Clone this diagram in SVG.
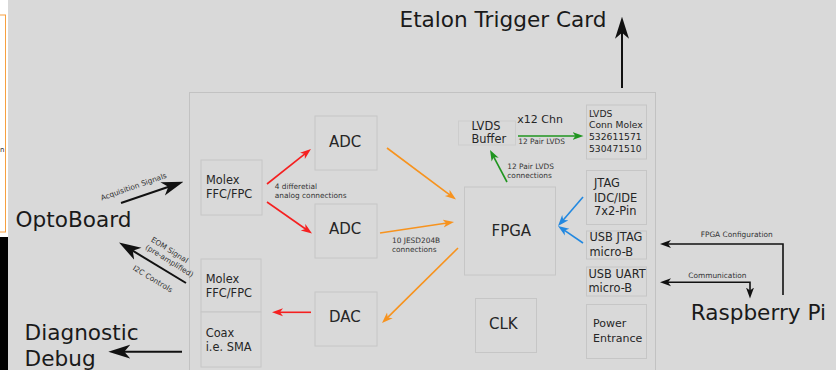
<svg xmlns="http://www.w3.org/2000/svg" width="836" height="370" viewBox="0 0 836 370">
<style>
text{font-family:"DejaVu Sans","Liberation Sans",sans-serif;fill:#262626}
.big{font-size:21.6px;fill:#1a1a1a}
.box{fill:#d9d9d9;stroke:#c6c6c6;stroke-width:1}
.t15{font-size:15px}
.t11{font-size:11.4px}
.t9{font-size:9.2px}
.sm{font-size:7.4px;fill:#333}
.red{stroke:#f52020;stroke-width:1.6;fill:none}
.org{stroke:#f7931e;stroke-width:1.6;fill:none}
.grn{stroke:#1f951f;stroke-width:1.6;fill:none}
.blu{stroke:#2288e0;stroke-width:1.6;fill:none}
.blk{stroke:#111;stroke-width:1.6;fill:none}
.bigk{stroke:#111;stroke-width:2;fill:none}
</style>
<defs>
<marker id="mr" markerUnits="userSpaceOnUse" viewBox="0 -5 12 10" markerWidth="12" markerHeight="10" refX="4" refY="0" orient="auto"><path d="M0,-4 L11,0 L0,4 L3,0 Z" fill="#f52020"/></marker>
<marker id="mo" markerUnits="userSpaceOnUse" viewBox="0 -5 12 10" markerWidth="12" markerHeight="10" refX="4" refY="0" orient="auto"><path d="M0,-4 L11,0 L0,4 L3,0 Z" fill="#f7931e"/></marker>
<marker id="mg" markerUnits="userSpaceOnUse" viewBox="0 -5 12 10" markerWidth="12" markerHeight="10" refX="4" refY="0" orient="auto"><path d="M0,-4 L11,0 L0,4 L3,0 Z" fill="#1f951f"/></marker>
<marker id="mb" markerUnits="userSpaceOnUse" viewBox="0 -5 12 10" markerWidth="12" markerHeight="10" refX="4" refY="0" orient="auto"><path d="M0,-4 L11,0 L0,4 L3,0 Z" fill="#2288e0"/></marker>
<marker id="mk" markerUnits="userSpaceOnUse" viewBox="0 -5 12 10" markerWidth="12" markerHeight="10" refX="4" refY="0" orient="auto-start-reverse"><path d="M0,-4 L11,0 L0,4 L3,0 Z" fill="#111"/></marker>
<marker id="mK" markerUnits="userSpaceOnUse" viewBox="0 -8 22 16" markerWidth="22" markerHeight="16" refX="8" refY="0" orient="auto"><path d="M0,-7 L22,0 L0,7 L6,0 Z" fill="#111"/></marker>
</defs>

<rect x="0" y="0" width="836" height="370" fill="#d9d9d9"/>

<!-- cropped edge artifacts -->
<g id="edge">
<rect x="0" y="0" width="8" height="237" fill="#ffffff"/>
<rect x="-5" y="15" width="10.5" height="217" fill="none" stroke="#f7a040" stroke-width="1"/>
<text x="0" y="152" style="font-size:7px">n</text>
<rect x="0" y="237" width="8" height="133" fill="#000"/>
</g>

<g id="board"><rect x="189.5" y="92.5" width="466" height="290" fill="none" stroke="#c2c2c2" stroke-width="1"/></g>

<g id="molex-top"><rect class="box" x="201" y="160" width="61" height="55"/><text class="t11" x="206" y="184.3">Molex</text><text class="t11" x="206" y="198.3">FFC/FPC</text></g>
<g id="adc-top"><rect class="box" x="315" y="116" width="62" height="54"/><text class="t15" x="329" y="147">ADC</text></g>
<g id="adc-bottom"><rect class="box" x="315" y="204" width="62" height="54"/><text class="t15" x="329" y="234">ADC</text></g>
<g id="molex-bottom"><rect class="box" x="201" y="259" width="60" height="53"/><text class="t11" x="205.7" y="283.3">Molex</text><text class="t11" x="205.7" y="297">FFC/FPC</text></g>
<g id="coax"><rect class="box" x="201" y="312" width="60" height="55"/><text class="t11" x="205.7" y="337.3">Coax</text><text class="t11" x="205.7" y="350.7">i.e. SMA</text></g>
<g id="dac"><rect class="box" x="315" y="292" width="62" height="54"/><text class="t15" x="329" y="322.3">DAC</text></g>
<g id="fpga"><rect class="box" x="464.5" y="187" width="91" height="88"/><text class="t15" x="491.5" y="235.7">FPGA</text></g>
<g id="clk"><rect class="box" x="475.5" y="298.5" width="61" height="54"/><text class="t15" x="489" y="329.3">CLK</text></g>
<g id="lvds-buffer"><rect class="box" x="458.5" y="121" width="57" height="24" style="stroke:#cdcdcd"/><text class="t11" x="471.5" y="129.5">LVDS</text><text class="t11" x="471.5" y="143.3">Buffer</text></g>
<g id="lvds-conn"><rect class="box" x="586.5" y="105" width="60" height="54"/><text class="t9" x="589" y="116.7">LVDS</text><text class="t9" x="589" y="128.4">Conn Molex</text><text class="t9" x="589" y="140.1">532611571</text><text class="t9" x="589" y="151.8">530471510</text></g>
<g id="jtag"><rect class="box" x="586.5" y="170.5" width="60" height="54"/><text class="t11" x="594" y="187.3">JTAG</text><text class="t11" x="594" y="201.5">IDC/IDE</text><text class="t11" x="594" y="215.3">7x2-Pin</text></g>
<g id="usb-jtag"><rect class="box" x="586.5" y="231" width="60" height="28"/><text class="t11" x="589.5" y="241">USB JTAG</text><text class="t11" x="589.5" y="255.5">micro-B</text></g>
<g id="usb-uart"><rect class="box" x="586.5" y="267" width="60" height="29"/><text class="t11" x="588.5" y="278">USB UART</text><text class="t11" x="588.5" y="292">micro-B</text></g>
<g id="power"><rect class="box" x="586.5" y="304.5" width="60" height="54"/><text class="t11" x="593" y="327.3" style="font-size:11px">Power</text><text class="t11" x="593" y="342" style="font-size:11px">Entrance</text></g>

<g id="etalon"><text class="big" x="399.5" y="26.5">Etalon Trigger Card</text></g>
<g id="optoboard"><text class="big" x="15.5" y="226.7">OptoBoard</text></g>
<g id="diagnostic"><text class="big" x="24.6" y="340">Diagnostic</text><text class="big" x="24.6" y="366">Debug</text></g>
<g id="raspberry"><text class="big" x="690.7" y="320">Raspberry Pi</text></g>

<g id="connectors">
<path class="red" d="M267,184 L305.5,153.4" marker-end="url(#mr)"/>
<path class="red" d="M267,202 L306.3,229.5" marker-end="url(#mr)"/>
<path class="red" d="M311,312.3 L279,312.3" marker-end="url(#mr)"/>
<path class="org" d="M387,148 L450.4,195.3" marker-end="url(#mo)"/>
<path class="org" d="M380,233 L447.1,223" marker-end="url(#mo)"/>
<path class="org" d="M458,248 L387,318.1" marker-end="url(#mo)"/>
<path class="grn" d="M518,136 L576.5,136" marker-end="url(#mg)"/>
<path class="grn" d="M507,182 L493.3,156.2" marker-end="url(#mg)"/>
<path class="blu" d="M583,197 L562.6,220.7" marker-end="url(#mb)"/>
<path class="blu" d="M583,243 L563.8,229.9" marker-end="url(#mb)"/>
<path class="blk" d="M783,295 V244 H667" marker-end="url(#mk)"/>
<path class="blk" d="M667,282.3 H750 V291.5" marker-start="url(#mk)" marker-end="url(#mk)"/>
<path class="bigk" d="M622,88 V30.7" marker-end="url(#mK)"/>
<path class="bigk" d="M121,203 L170.2,186.2" marker-end="url(#mK)"/>
<path class="bigk" d="M186,283 L131,249.7" marker-end="url(#mK)"/>
<path class="bigk" d="M182,351.7 H122.3" marker-end="url(#mK)"/>

<text class="sm" x="274.7" y="189">4 differetial</text>
<text class="sm" x="274.7" y="198">analog connections</text>
<text class="sm" x="392" y="243.3">10 JESD204B</text>
<text class="sm" x="392" y="252.3">connections</text>
<text x="517.3" y="122.7" style="font-size:11px">x12 Chn</text>
<text class="sm" x="518.3" y="144.3">12 Pair LVDS</text>
<text class="sm" x="507.3" y="169.3">12 Pair LVDS</text>
<text class="sm" x="507.3" y="178.3">connections</text>
<text class="sm" x="700.7" y="237.3">FPGA Configuration</text>
<text class="sm" x="688.3" y="277.7">Communication</text>
<text class="sm" text-anchor="middle" transform="translate(134.5,189) rotate(-19.5)">Acquisition Signals</text>
<g transform="translate(144.8,248.4) rotate(32)">
<text class="sm" x="1" y="-9.3">EOM Signal</text>
<text class="sm" x="0" y="0">(pre-amplified)</text>
</g>
<text class="sm" transform="translate(132.2,269.5) rotate(31)">I2C Controls</text>
</g>
</svg>
